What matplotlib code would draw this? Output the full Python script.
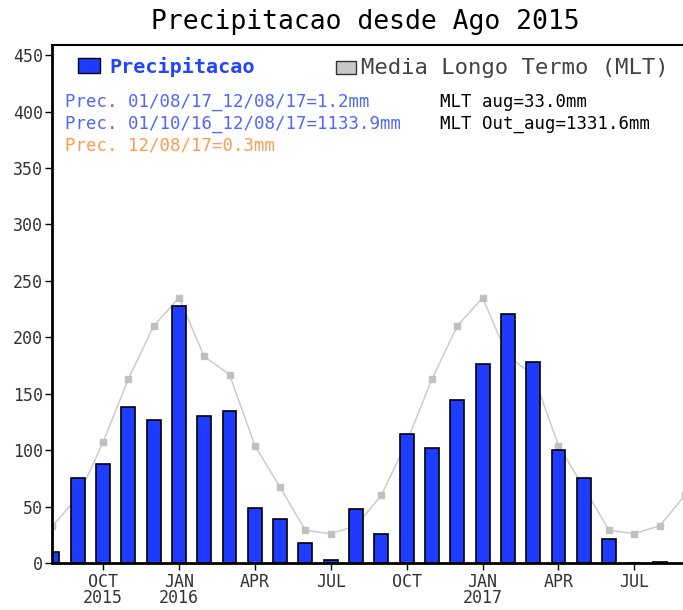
import numpy as np
import matplotlib
matplotlib.use("Agg")
import matplotlib.pyplot as plt
from matplotlib.patches import Rectangle

plt.rcParams["font.family"] = ["DejaVu Sans Mono", "DejaVu Sans"]

# monthly data, Aug 2015 .. Aug 2017
months = ["AUG", "SEP", "OCT", "NOV", "DEC", "JAN", "FEB", "MAR", "APR", "MAY", "JUN", "JUL"] * 2 + ["AUG", "SEP"]
precip = [10, 75, 88, 138, 127, 228, 130, 135, 48.5, 39, 17.5, 2.5,
          47.5, 25.5, 114, 101.5, 144, 176, 221, 178, 100, 75, 21, 0, 1.2]
mlt = [33, 58, 107, 163, 210, 235, 183, 167, 104, 67, 29, 26,
       33, 60, 107, 163, 210, 235, 183, 167, 104, 67, 29, 26, 33, 60]

tick_idx = [2, 5, 8, 11, 14, 17, 20, 23]
tick_labels = ["OCT\n2015", "JAN\n2016", "APR", "JUL", "OCT", "JAN\n2017", "APR", "JUL"]

W, H = 683, 610
fig = plt.figure(figsize=(W / 100, H / 100), dpi=100)

def px(x, y):
    return x / W, 1 - y / H

left, bottom = px(52.4, 563)
right, top = px(685, 45)
ax = fig.add_axes([left, bottom, right - left, top - bottom])

x_bar = np.arange(len(precip))
x_mlt = np.arange(len(mlt))

ax.plot(x_mlt, mlt, color="#c8c8c8", lw=1, marker="s", ms=4,
        markerfacecolor="#c0c0c0", markeredgecolor="#c0c0c0", zorder=1)
ax.bar(x_bar, precip, width=0.55, color="#1e3cff", edgecolor="black", linewidth=1.2, zorder=2)

ax.set_xlim(0, 25)
ax.set_ylim(0, 459)
ax.set_yticks(np.arange(0, 451, 50))
ax.set_xticks(tick_idx)
ax.set_xticklabels(tick_labels, fontsize=12, color="#333333", linespacing=0.9)
ax.tick_params(axis="y", labelsize=12, labelcolor="#333333", length=5, width=1, pad=2)
ax.tick_params(axis="x", length=5, width=1, pad=2)

ax.spines["right"].set_visible(False)
ax.spines["left"].set_linewidth(2)
ax.spines["bottom"].set_linewidth(2)
ax.spines["top"].set_linewidth(1.5)

fig.text(*px(365, 22), "Precipitacao desde Ago 2015", fontsize=19, ha="center", va="center")

# legend
fig.patches.append(Rectangle(px(78, 73), 22 / W, 15 / H, transform=fig.transFigure,
                             facecolor="#1e3cff", edgecolor="black", lw=1))
fig.text(*px(109, 67), "Precipitacao", fontsize=14.5, color="#2244ff", fontweight="bold", va="center")
fig.patches.append(Rectangle(px(336, 74), 20 / W, 13 / H, transform=fig.transFigure,
                             facecolor="#c8c8c8", edgecolor="#333333", lw=1))
fig.text(*px(361, 68), "Media Longo Termo (MLT)", fontsize=16, color="#444444", va="center")

fig.text(*px(65, 102), "Prec. 01/08/17_12/08/17=1.2mm", fontsize=12.5, color="#5066ff", va="center")
fig.text(*px(65, 124), "Prec. 01/10/16_12/08/17=1133.9mm", fontsize=12.5, color="#5066ff", va="center")
fig.text(*px(65, 146), "Prec. 12/08/17=0.3mm", fontsize=12.5, color="#ff9a50", va="center")
fig.text(*px(440, 102), "MLT aug=33.0mm", fontsize=12.5, color="black", va="center")
fig.text(*px(440, 124), "MLT Out_aug=1331.6mm", fontsize=12.5, color="black", va="center")

fig.savefig("out.png", dpi=100)
